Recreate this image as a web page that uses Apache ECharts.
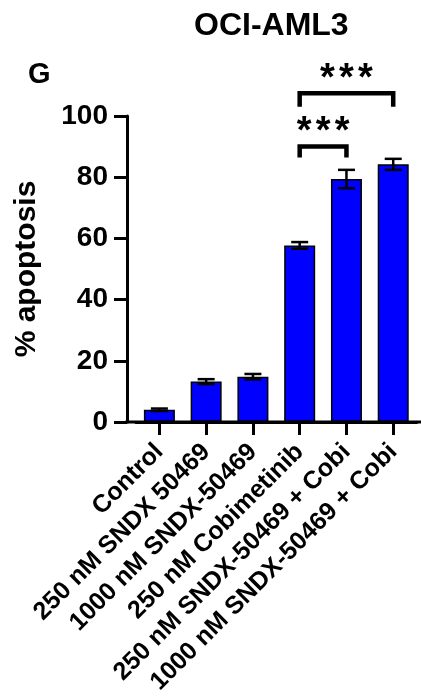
<!DOCTYPE html>
<html>
<head>
<meta charset="utf-8">
<script src="https://cdn.jsdelivr.net/npm/echarts@6/dist/echarts.min.js"></script>
<style>
  html, body { margin: 0; padding: 0; background: #fff; }
  #chart { width: 421px; height: 700px; }
</style>
</head>
<body>
<div id="chart"></div>
<script>
// Treatment groups and % apoptosis (mean ± error)
const categories = [
  'Control',
  '250 nM SNDX 50469',
  '1000 nM SNDX-50469',
  '250 nM Cobimetinib',
  '250 nM SNDX-50469 + Cobi',
  '1000 nM SNDX-50469 + Cobi'
];
const apoptosisMean = [4.0, 13.2, 14.8, 57.7, 79.4, 84.2];
const apoptosisErr = [0.4, 0.8, 0.9, 1.1, 3.0, 1.8];
const yTicks = [0, 20, 40, 60, 80, 100];

// Significance brackets: group index pairs, bracket height, leg drop, label
const sigFrom = [3, 3];
const sigTo = [4, 5];
const sigLevel = [90, 107.4];
const sigDrop = [3.6, 4.4];
const sigLabel = ['***', '***'];

const FONT = '"Liberation Sans", Arial, Helvetica, sans-serif';
const GRID_LEFT = 136, GRID_RIGHT = 4.4, GRID_TOP = 116, GRID_BOTTOM = 278;
const Y_OFFSET = 9;
const STAR_PITCH = 19;

const chart = echarts.init(document.getElementById('chart'), null, { renderer: 'canvas' });

const option = {
  animation: false,
  backgroundColor: '#fff',
  title: [
    {
      text: 'OCI-AML3', left: 194, top: 10, padding: 0,
      textStyle: { fontFamily: FONT, fontSize: 32, fontWeight: 'bold', color: '#000' }
    },
    {
      text: 'G', left: 28, top: 60, padding: 0,
      textStyle: { fontFamily: FONT, fontSize: 29, fontWeight: 'bold', color: '#000' }
    }
  ],
  grid: { left: GRID_LEFT, right: GRID_RIGHT, top: GRID_TOP, bottom: GRID_BOTTOM, containLabel: false },
  xAxis: {
    type: 'category',
    data: categories,
    axisLine: { show: true, lineStyle: { color: '#000', width: 3 } },
    axisTick: { show: true, alignWithLabel: true, length: 13, lineStyle: { color: '#000', width: 3 } },
    axisLabel: {
      interval: 0, rotate: 45, margin: 26,
      fontFamily: FONT, fontSize: 25, fontWeight: 'bold', color: '#000'
    },
    splitLine: { show: false }
  },
  yAxis: {
    type: 'value',
    min: yTicks[0],
    max: yTicks[yTicks.length - 1],
    interval: yTicks[1] - yTicks[0],
    offset: Y_OFFSET,
    name: '% apoptosis',
    nameLocation: 'middle',
    nameRotate: 90,
    nameGap: 85,
    nameTextStyle: { fontFamily: FONT, fontSize: 30, fontWeight: 'bold', color: '#000' },
    axisLine: { show: true, lineStyle: { color: '#000', width: 3 } },
    axisTick: { show: true, length: 13, lineStyle: { color: '#000', width: 3 } },
    axisLabel: { margin: 19, fontFamily: FONT, fontSize: 28, fontWeight: 'bold', color: '#000' },
    splitLine: { show: false }
  },
  graphic: [
    // x axis line continues under the offset y axis and out to the edge
    {
      type: 'line', z: 10,
      shape: { x1: GRID_LEFT - Y_OFFSET - 1.5, y1: 700 - GRID_BOTTOM, x2: 421, y2: 700 - GRID_BOTTOM },
      style: { stroke: '#000', lineWidth: 3 }
    }
  ],
  series: [
    {
      type: 'bar',
      data: apoptosisMean,
      barWidth: 31,
      itemStyle: { color: '#0000ff', borderColor: '#000', borderWidth: 1.5 },
      z: 2
    },
    {
      // error bars
      type: 'custom',
      clip: false,
      z: 5,
      data: apoptosisMean.map((m, i) => [i, m, apoptosisErr[i]]),
      encode: { x: 0, y: 1 },
      renderItem: function (params, api) {
        const i = api.value(0), m = api.value(1), e = api.value(2);
        const top = api.coord([i, m + e]);
        const bot = api.coord([i, m - e]);
        const half = 8.5;
        const st = { stroke: '#000', lineWidth: 2.5 };
        return {
          type: 'group',
          children: [
            { type: 'line', shape: { x1: top[0], y1: top[1], x2: bot[0], y2: bot[1] }, style: st },
            { type: 'line', shape: { x1: top[0] - half, y1: top[1], x2: top[0] + half, y2: top[1] }, style: st },
            { type: 'line', shape: { x1: bot[0] - half, y1: bot[1], x2: bot[0] + half, y2: bot[1] }, style: st }
          ]
        };
      }
    },
    {
      // significance brackets with stars
      type: 'custom',
      clip: false,
      z: 5,
      data: sigLevel.map((v, k) => [sigFrom[k], v]),
      encode: { x: 0, y: 1 },
      renderItem: function (params, api) {
        const k = params.dataIndex;
        const lvl = sigLevel[k];
        const a = api.coord([sigFrom[k], lvl]);
        const b = api.coord([sigTo[k], lvl]);
        const aLow = api.coord([sigFrom[k], lvl - sigDrop[k]]);
        const st = { stroke: '#000', lineWidth: 4.5, lineJoin: 'miter', lineCap: 'butt', fill: null };
        const cx = (a[0] + b[0]) / 2;
        const stars = sigLabel[k].split('');
        const children = [
          {
            type: 'polyline',
            shape: { points: [[a[0], aLow[1]], [a[0], a[1]], [b[0], b[1]], [b[0], aLow[1]]] },
            style: st
          }
        ];
        stars.forEach((ch, j) => {
          children.push({
            type: 'text',
            x: cx + (j - (stars.length - 1) / 2) * STAR_PITCH,
            y: a[1] - 14,
            style: {
              text: ch, fill: '#000',
              font: 'bold 38px ' + FONT,
              align: 'center', verticalAlign: 'middle'
            }
          });
        });
        return { type: 'group', children: children };
      }
    }
  ]
};

chart.setOption(option);
</script>
</body>
</html>
